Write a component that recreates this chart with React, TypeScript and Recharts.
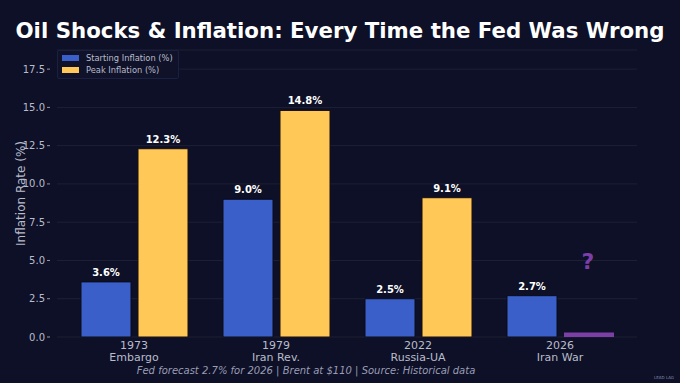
import React from 'react';
import {
  BarChart,
  Bar,
  XAxis,
  YAxis,
  CartesianGrid,
  Cell,
  LabelList,
  ReferenceDot,
} from 'recharts';

const years = ['1973', '1979', '2022', '2026'];
const events = ['Embargo', 'Iran Rev.', 'Russia-UA', 'Iran War'];
const startingInflation = [3.6, 9.0, 2.5, 2.7];
const peakInflation = [12.3, 14.8, 9.1, 0.3];
const peakKnown = [true, true, true, false];
const yTicks = [0, 2.5, 5, 7.5, 10, 12.5, 15, 17.5];
const questionMarkLevel = 5.0;

const BG = '#0d1026';
const BLUE = '#3a5fc9';
const YELLOW = '#ffc857';
const PURPLE = '#7b3fa6';
const TEXT = '#b9bccb';

const data = years.map((y, i) => ({
  key: y,
  event: events[i],
  start: startingInflation[i],
  peak: peakInflation[i],
  known: peakKnown[i],
}));

const XTick = ({ x, y, payload, index }: any) => (
  <g transform={`translate(${x},${y})`}>
    <text x={0} y={4} textAnchor="middle" fill={TEXT} fontSize={11}>
      {payload.value}
    </text>
    <text x={0} y={16} textAnchor="middle" fill={TEXT} fontSize={11}>
      {events[index]}
    </text>
  </g>
);

const YTick = ({ x, y, payload }: any) => (
  <g>
    <text x={x - 4} y={y + 3.5} textAnchor="end" fill={TEXT} fontSize={10}>
      {payload.value.toFixed(1)}
    </text>
    <line x1={x - 2} x2={x + 1} y1={y} y2={y} stroke={TEXT} strokeWidth={0.8} />
  </g>
);

const valueLabel = (known: boolean[] | null) => (props: any) => {
  const { x, y, width, value, index } = props;
  if (known && !known[index]) return null;
  return (
    <text x={x + width / 2} y={y - 6} textAnchor="middle" fill="#ffffff" fontSize={10} fontWeight="bold">
      {value.toFixed(1)}%
    </text>
  );
};

const QuestionMark = ({ cx, cy }: any) => (
  <text x={cx + 28} y={cy + 9} textAnchor="middle" fill={PURPLE} fontSize={22} fontWeight="bold">
    ?
  </text>
);

const LegendBox = () => (
  <div
    style={{
      position: 'absolute',
      left: 57,
      top: 50,
      width: 120,
      height: 27,
      background: '#0f1229',
      border: '1px solid #1c2040',
      borderRadius: 2,
      fontFamily: 'DejaVu Sans',
      fontSize: 8.3,
      color: TEXT,
    }}
  >
    {[
      { c: BLUE, t: 'Starting Inflation (%)' },
      { c: YELLOW, t: 'Peak Inflation (%)' },
    ].map((it, i) => (
      <div key={i} style={{ position: 'absolute', left: 4, top: 2 + i * 12, display: 'flex', alignItems: 'center' }}>
        <span style={{ width: 17, height: 6, background: it.c, display: 'inline-block', marginRight: 7 }} />
        <span>{it.t}</span>
      </div>
    ))}
  </div>
);

export default function App() {
  return (
    <div
      style={{
        position: 'fixed',
        left: 0,
        top: 0,
        width: 680,
        height: 383,
        background: BG,
        fontFamily: 'DejaVu Sans',
        overflow: 'hidden',
      }}
    >
      <div
        style={{
          position: 'absolute',
          top: 18,
          width: 680,
          textAlign: 'center',
          color: '#ffffff',
          fontSize: 21.3,
          fontWeight: 'bold',
        }}
      >
        Oil Shocks &amp; Inflation: Every Time the Fed Was Wrong
      </div>
      <BarChart
        width={680}
        height={383}
        data={data}
        margin={{ top: 50, right: 43, bottom: 0, left: 0 }}
        barSize={50}
        barGap={7}
        style={{ position: 'absolute', left: 0, top: 0 }}
      >
        <CartesianGrid vertical={false} stroke="rgba(255,255,255,0.07)" />
        <XAxis
          dataKey="key"
          axisLine={false}
          tickLine={false}
          tick={<XTick />}
          padding={{ left: 6, right: 6 }}
          interval={0}
          height={46}
        />
        <YAxis
          domain={[0, 18.75]}
          ticks={yTicks}
          axisLine={false}
          tickLine={false}
          tick={<YTick />}
          width={57}
          label={{
            value: 'Inflation Rate (%)',
            angle: -90,
            position: 'insideLeft',
            offset: 21,
            fill: TEXT,
            fontSize: 12,
            style: { textAnchor: 'middle' },
          }}
        />
        <Bar dataKey="start" fill={BLUE} stroke="#0a0c1c" strokeWidth={1} isAnimationActive={false}>
          <LabelList dataKey="start" content={valueLabel(null)} />
        </Bar>
        <Bar dataKey="peak" fill={YELLOW} stroke="#1a0f10" strokeWidth={1} isAnimationActive={false}>
          {data.map((d, i) => (
            <Cell key={i} fill={d.known ? YELLOW : PURPLE} stroke={d.known ? '#1a0f10' : 'none'} />
          ))}
          <LabelList dataKey="peak" content={valueLabel(peakKnown)} />
        </Bar>
        <ReferenceDot x="2026" y={questionMarkLevel} r={0} shape={<QuestionMark />} />
        <text x={306} y={374} textAnchor="middle" fill="#9a9db5" fontSize={10} fontStyle="italic">
          Fed forecast 2.7% for 2026 | Brent at $110 | Source: Historical data
        </text>
        <text x={664} y={379} textAnchor="middle" fill="#8a8fb0" fontSize={4}>
          LEAD LAG
        </text>
      </BarChart>
      <LegendBox />
    </div>
  );
}
